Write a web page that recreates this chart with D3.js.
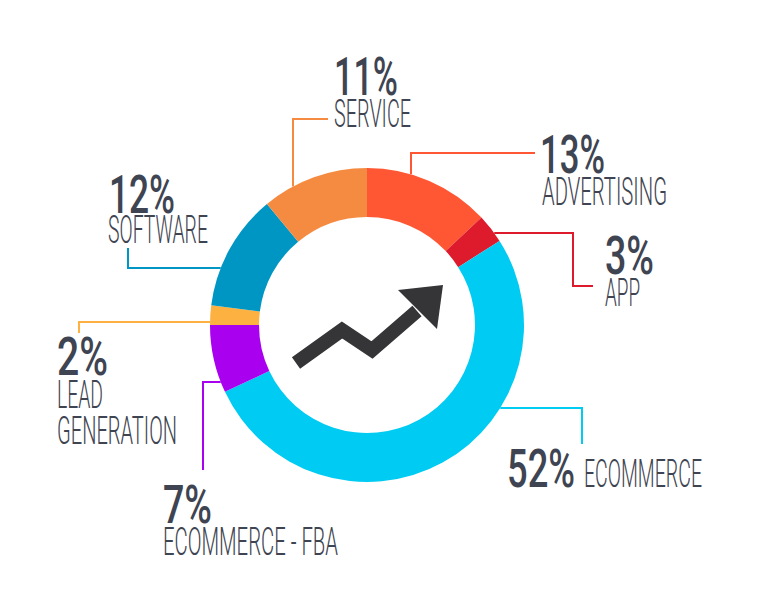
<!DOCTYPE html>
<html>
<head>
<meta charset="utf-8">
<script src="https://cdn.jsdelivr.net/npm/d3@7"></script>
<style>
  body { margin: 0; background: #fff; }
</style>
</head>
<body>
<div id="chart"></div>
<script>
// data
const categories = ["ADVERTISING", "APP", "ECOMMERCE", "ECOMMERCE - FBA", "LEAD GENERATION", "SOFTWARE", "SERVICE"];
const shares = [13, 3, 52, 7, 2, 12, 11];
const colors = ["#ff5733", "#dd1b2d", "#00cbf3", "#a900f0", "#fdb141", "#0096c3", "#f58b41"];

// label layout: leader route + text anchors (layout only)
// dir "v": leader leaves ring vertically at x = lx; "h": horizontally at y = ly
const labelLayout = [
  { dir: "v", lx: 411, route: [[411, 153], [535, 153]], px: 540, py: 173, pw: 65, lines: [["ADVERTISING", 542, 205, 125]] },
  { dir: "h", ly: 233, route: [[573, 233], [573, 286], [593, 286]], px: 605, py: 274, pw: 49, lines: [["APP", 605, 306, 35]] },
  { dir: "h", ly: 408, route: [[582, 408], [582, 444]], px: 507, py: 487, pw: 68, lines: [["ECOMMERCE", 584, 487, 118]] },
  { dir: "h", ly: 382, route: [[203, 382], [203, 470]], px: 163, py: 523, pw: 49, lines: [["ECOMMERCE - FBA", 163, 555, 175]] },
  { dir: "h", ly: 322, route: [[79, 322], [79, 333]], px: 57, py: 375, pw: 51, lines: [["LEAD", 57, 408, 46], ["GENERATION", 57, 444, 120]] },
  { dir: "h", ly: 268, route: [[128, 268], [128, 248]], px: 109, py: 213, pw: 66, lines: [["SOFTWARE", 108, 243, 100]] },
  { dir: "v", lx: 293, route: [[293, 119], [328, 119]], px: 334, py: 95, pw: 64, lines: [["SERVICE", 334, 127, 77]] }
];

const width = 768, height = 604;
const cx = 367, cy = 325;
const outerR = 157, innerR = 108;
const textColor = "#3e4451";

const svg = d3.select("#chart")
  .append("svg")
  .attr("width", width)
  .attr("height", height);

const data = categories.map((c, i) => ({ name: c, value: shares[i], color: colors[i], layout: labelLayout[i] }));

const pie = d3.pie()
  .sort(null)
  .value(d => d.value);

const arc = d3.arc()
  .innerRadius(innerR)
  .outerRadius(outerR);

const ring = svg.append("g")
  .attr("transform", `translate(${cx},${cy})`);

ring.selectAll("path")
  .data(pie(data))
  .enter()
  .append("path")
  .attr("d", arc)
  .attr("fill", d => d.data.color);

// leader lines, starting where they meet the outer edge of the ring
const line = d3.line();
svg.append("g")
  .selectAll("path")
  .data(data)
  .enter()
  .append("path")
  .attr("fill", "none")
  .attr("stroke", d => d.color)
  .attr("stroke-width", 2)
  .attr("d", d => {
    const L = d.layout;
    let start;
    if (L.dir === "v") {
      start = [L.lx, cy - Math.sqrt(outerR * outerR - (L.lx - cx) ** 2)];
    } else {
      const dx = Math.sqrt(outerR * outerR - (L.ly - cy) ** 2);
      start = [L.route[0][0] > cx ? cx + dx : cx - dx, L.ly];
    }
    return line([start, ...L.route]);
  });

// labels
const labels = svg.append("g")
  .attr("fill", textColor)
  .style("font-family", "Roboto, 'Liberation Sans', sans-serif");

data.forEach(d => {
  const L = d.layout;
  labels.append("text")
    .attr("x", L.px)
    .attr("y", L.py)
    .attr("textLength", L.pw)
    .attr("lengthAdjust", "spacingAndGlyphs")
    .style("font-size", "53px")
    .style("font-weight", 500)
    .text(d.value + "%");
  L.lines.forEach(([t, x, y, w]) => {
    labels.append("text")
      .attr("x", x)
      .attr("y", y)
      .attr("textLength", w)
      .attr("lengthAdjust", "spacingAndGlyphs")
      .style("font-size", "38px")
      .style("font-weight", 300)
      .text(t);
  });
});

// trend arrow icon in the middle
const icon = svg.append("g")
  .attr("transform", `translate(${cx},${cy})`);

icon.append("path")
  .attr("d", line([[-71, 38], [-25, 5], [5, 25], [50, -14]]))
  .attr("fill", "none")
  .attr("stroke", "#353538")
  .attr("stroke-width", 14)
  .attr("stroke-linejoin", "miter");

icon.append("path")
  .attr("d", line([[31, -35], [76, -40], [70, 4]]) + "Z")
  .attr("fill", "#353538");
</script>
</body>
</html>
